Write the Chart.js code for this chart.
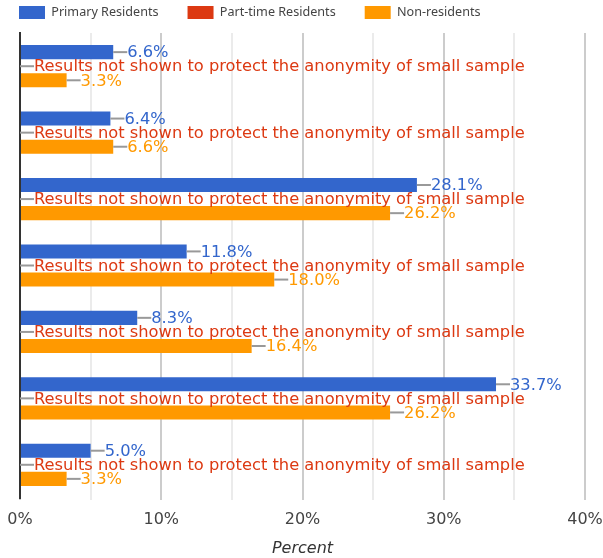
<!DOCTYPE html>
<html><head><meta charset="utf-8">
<script src="https://cdn.jsdelivr.net/npm/chart.js@4.4.0/dist/chart.umd.min.js"></script>
<style>html,body{margin:0;padding:0;background:#fff}#wrap{width:603px;height:558px}</style>
</head><body><div id="wrap"><canvas id="c" width="603" height="558"></canvas></div>
<script>
const categories = ["Group 1","Group 2","Group 3","Group 4","Group 5","Group 6","Group 7"];
const seriesNames = ["Primary Residents","Part-time Residents","Non-residents"];
const primaryValues = [6.6, 6.4, 28.1, 11.8, 8.3, 33.7, 5.0];
const partTimeValues = [0, 0, 0, 0, 0, 0, 0];
const nonResidentValues = [3.3, 6.6, 26.2, 18.0, 16.4, 26.2, 3.3];
const suppressedText = "Results not shown to protect the anonymity of small sample";
const xTicks = [0, 10, 20, 30, 40];
const colors = ["#3366cc", "#dc3912", "#ff9900"];

const LEGEND_PAD = 29;
const legendTweak = {
  id: 'legendTweak',
  beforeUpdate(chart) {
    const lg = chart.legend;
    if (lg && !lg._patched) {
      const orig = lg.update.bind(lg);
      lg.update = function(a, b, c) { orig(a, b, c); this.height = 33; if (this.minSize) this.minSize.height = 33; };
      lg._patched = true;
    }
  },
  afterLayout(chart) {
    const lg = chart.legend;
    if (lg) { lg.left = 19 - LEGEND_PAD; lg.top = 6 - LEGEND_PAD; }
  }
};

const labelPlugin = {
  id: 'valueLabels',
  afterDatasetsDraw(chart) {
    const ctx = chart.ctx;
    ctx.save();
    ctx.font = '16.3px "DejaVu Sans"';
    ctx.textBaseline = 'middle';
    ctx.textAlign = 'left';
    chart.data.datasets.forEach((ds, di) => {
      const meta = chart.getDatasetMeta(di);
      meta.data.forEach((bar, i) => {
        const suppressed = di === 1;
        const x0 = bar.x;
        const y = bar.y;
        ctx.strokeStyle = '#999999';
        ctx.lineWidth = 2;
        ctx.beginPath();
        ctx.moveTo(x0, y);
        ctx.lineTo(x0 + 14, y);
        ctx.stroke();
        ctx.fillStyle = ds.backgroundColor;
        const txt = suppressed ? suppressedText : ds.data[i].toFixed(1) + '%';
        ctx.fillText(txt, x0 + 14, y + 1);
      });
    });
    ctx.restore();
  }
};

new Chart(document.getElementById('c'), {
  type: 'bar',
  data: {
    labels: categories,
    datasets: [
      {label: seriesNames[0], data: primaryValues, backgroundColor: colors[0]},
      {label: seriesNames[1], data: partTimeValues, backgroundColor: colors[1]},
      {label: seriesNames[2], data: nonResidentValues, backgroundColor: colors[2]}
    ]
  },
  options: {
    indexAxis: 'y',
    responsive: false,
    animation: false,
    devicePixelRatio: 1,
    layout: {padding: {left: 20, right: 18, top: 0, bottom: 0}},
    datasets: {bar: {barPercentage: 1, categoryPercentage: 0.636, borderWidth: 0}},
    plugins: {
      legend: {
        position: 'top', align: 'start',
        labels: {boxWidth: 26, boxHeight: 13, padding: LEGEND_PAD, color: '#444',
                 font: {family: '"Noto Sans"', size: 12.6}}
      },
      tooltip: {enabled: false}
    },
    scales: {
      x: {
        min: xTicks[0], max: xTicks[xTicks.length - 1],
        ticks: {stepSize: 5, color: '#444', font: {family: '"DejaVu Sans"', size: 16}, padding: 10,
                autoSkip: false, maxRotation: 0,
                callback: v => xTicks.includes(v) ? v + '%' : ''},
        grid: {color: c => (c.tick && c.tick.value % 10 === 0) ? '#cccccc' : '#ebebeb',
               lineWidth: 2, tickLength: 2},
        border: {display: false},
        title: {display: true, text: 'Percent', color: '#333',
                font: {family: '"DejaVu Sans"', size: 16, style: 'italic'}, padding: {top: 5, bottom: 0}},
        afterFit: s => { s.height = 60; s.paddingLeft = 0; s.paddingRight = 0; }
      },
      y: {
        ticks: {display: false},
        grid: {display: false},
        border: {display: true, color: '#333', width: 2},
        afterFit: s => { s.width = 0; }
      }
    }
  },
  plugins: [legendTweak, labelPlugin]
});
</script></body></html>
